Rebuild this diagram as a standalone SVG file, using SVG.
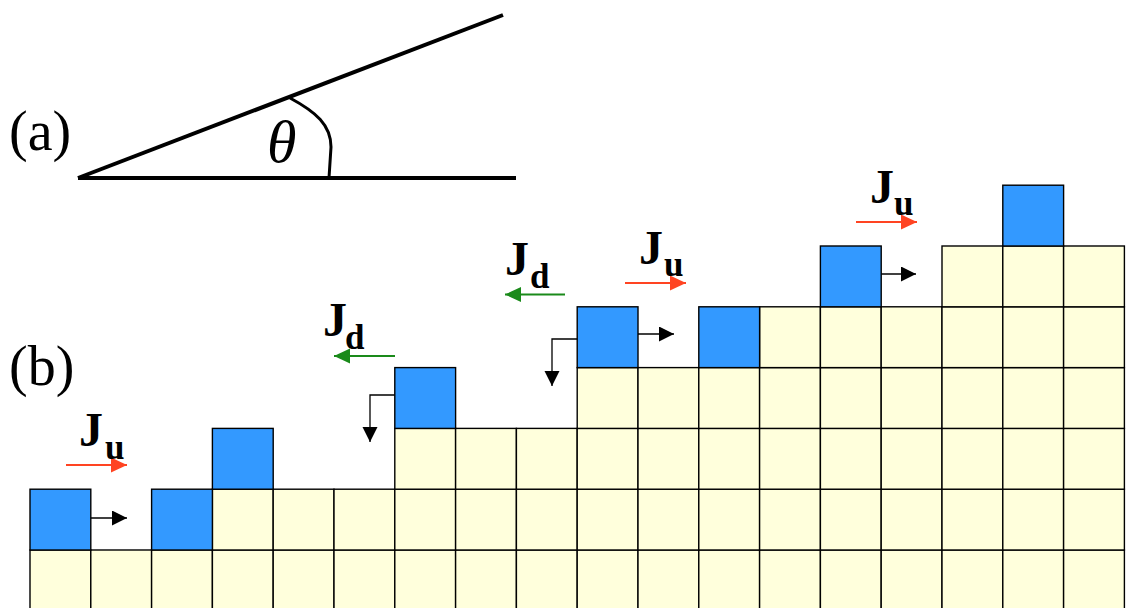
<svg xmlns="http://www.w3.org/2000/svg" width="1126" height="608" viewBox="0 0 1126 608">
<defs>
<style>
.y{fill:#FFFFDC;stroke:#000;stroke-width:1.4}
.b{fill:#3399FF;stroke:#000;stroke-width:1.4}
.lbl{font-family:"Liberation Serif","Times New Roman",serif;fill:#000}
.J{font-size:48px;font-weight:bold}
.s{font-size:35px;font-weight:bold}
.ar{stroke:#000;stroke-width:1.3;fill:none}
.red{stroke:#FF4422;stroke-width:2;fill:none}
.grn{stroke:#1A8A1A;stroke-width:2.2;fill:none}
</style>
<marker id="mk" markerUnits="userSpaceOnUse" markerWidth="16" markerHeight="16" refX="15" refY="7.5" orient="auto"><path d="M0,0 L15,7.5 L0,15 Z" fill="#000"/></marker>
<marker id="mr" markerUnits="userSpaceOnUse" markerWidth="17" markerHeight="16" refX="16" refY="7.5" orient="auto"><path d="M0,0 L16,7.5 L0,15 Z" fill="#FF4422"/></marker>
<marker id="mg" markerUnits="userSpaceOnUse" markerWidth="17" markerHeight="16" refX="16" refY="7.5" orient="auto"><path d="M0,0 L16,7.5 L0,15 Z" fill="#1A8A1A"/></marker>
</defs>
<rect width="1126" height="608" fill="#fff"/>

<g id="angle">
<line x1="78" y1="178" x2="516" y2="178" stroke="#000" stroke-width="4"/>
<line x1="78" y1="178" x2="503" y2="15" stroke="#000" stroke-width="4"/>
<path d="M290,98 C316,112 331,125 331,147 L329,178" stroke="#000" stroke-width="3" fill="none"/>
<text class="lbl" x="267" y="162" font-size="60" font-style="italic">θ</text>
<text class="lbl" x="9" y="150" font-size="56">(a)</text>
</g>

<text class="lbl" x="9" y="385" font-size="56">(b)</text>

<g id="grid">
<rect class="y" x="30" y="550" width="60.8" height="70"/>
<rect class="y" x="90.8" y="550" width="60.8" height="70"/>
<rect class="y" x="151.6" y="550" width="60.8" height="70"/>
<rect class="y" x="212.4" y="550" width="60.8" height="70"/>
<rect class="y" x="273.2" y="550" width="60.8" height="70"/>
<rect class="y" x="334" y="550" width="60.8" height="70"/>
<rect class="y" x="394.8" y="550" width="60.8" height="70"/>
<rect class="y" x="455.6" y="550" width="60.8" height="70"/>
<rect class="y" x="516.4" y="550" width="60.8" height="70"/>
<rect class="y" x="577.2" y="550" width="60.8" height="70"/>
<rect class="y" x="638" y="550" width="60.8" height="70"/>
<rect class="y" x="698.8" y="550" width="60.8" height="70"/>
<rect class="y" x="759.6" y="550" width="60.8" height="70"/>
<rect class="y" x="820.4" y="550" width="60.8" height="70"/>
<rect class="y" x="881.2" y="550" width="60.8" height="70"/>
<rect class="y" x="942" y="550" width="60.8" height="70"/>
<rect class="y" x="1002.8" y="550" width="60.8" height="70"/>
<rect class="y" x="1063.6" y="550" width="60.8" height="70"/>
<rect class="y" x="212.4" y="489.2" width="60.8" height="60.8"/>
<rect class="y" x="273.2" y="489.2" width="60.8" height="60.8"/>
<rect class="y" x="334" y="489.2" width="60.8" height="60.8"/>
<rect class="y" x="394.8" y="489.2" width="60.8" height="60.8"/>
<rect class="y" x="455.6" y="489.2" width="60.8" height="60.8"/>
<rect class="y" x="516.4" y="489.2" width="60.8" height="60.8"/>
<rect class="y" x="577.2" y="489.2" width="60.8" height="60.8"/>
<rect class="y" x="638" y="489.2" width="60.8" height="60.8"/>
<rect class="y" x="698.8" y="489.2" width="60.8" height="60.8"/>
<rect class="y" x="759.6" y="489.2" width="60.8" height="60.8"/>
<rect class="y" x="820.4" y="489.2" width="60.8" height="60.8"/>
<rect class="y" x="881.2" y="489.2" width="60.8" height="60.8"/>
<rect class="y" x="942" y="489.2" width="60.8" height="60.8"/>
<rect class="y" x="1002.8" y="489.2" width="60.8" height="60.8"/>
<rect class="y" x="1063.6" y="489.2" width="60.8" height="60.8"/>
<rect class="y" x="394.8" y="428.4" width="60.8" height="60.8"/>
<rect class="y" x="455.6" y="428.4" width="60.8" height="60.8"/>
<rect class="y" x="516.4" y="428.4" width="60.8" height="60.8"/>
<rect class="y" x="577.2" y="428.4" width="60.8" height="60.8"/>
<rect class="y" x="638" y="428.4" width="60.8" height="60.8"/>
<rect class="y" x="698.8" y="428.4" width="60.8" height="60.8"/>
<rect class="y" x="759.6" y="428.4" width="60.8" height="60.8"/>
<rect class="y" x="820.4" y="428.4" width="60.8" height="60.8"/>
<rect class="y" x="881.2" y="428.4" width="60.8" height="60.8"/>
<rect class="y" x="942" y="428.4" width="60.8" height="60.8"/>
<rect class="y" x="1002.8" y="428.4" width="60.8" height="60.8"/>
<rect class="y" x="1063.6" y="428.4" width="60.8" height="60.8"/>
<rect class="y" x="577.2" y="367.6" width="60.8" height="60.8"/>
<rect class="y" x="638" y="367.6" width="60.8" height="60.8"/>
<rect class="y" x="698.8" y="367.6" width="60.8" height="60.8"/>
<rect class="y" x="759.6" y="367.6" width="60.8" height="60.8"/>
<rect class="y" x="820.4" y="367.6" width="60.8" height="60.8"/>
<rect class="y" x="881.2" y="367.6" width="60.8" height="60.8"/>
<rect class="y" x="942" y="367.6" width="60.8" height="60.8"/>
<rect class="y" x="1002.8" y="367.6" width="60.8" height="60.8"/>
<rect class="y" x="1063.6" y="367.6" width="60.8" height="60.8"/>
<rect class="y" x="759.6" y="306.8" width="60.8" height="60.8"/>
<rect class="y" x="820.4" y="306.8" width="60.8" height="60.8"/>
<rect class="y" x="881.2" y="306.8" width="60.8" height="60.8"/>
<rect class="y" x="942" y="306.8" width="60.8" height="60.8"/>
<rect class="y" x="1002.8" y="306.8" width="60.8" height="60.8"/>
<rect class="y" x="1063.6" y="306.8" width="60.8" height="60.8"/>
<rect class="y" x="942" y="246" width="60.8" height="60.8"/>
<rect class="y" x="1002.8" y="246" width="60.8" height="60.8"/>
<rect class="y" x="1063.6" y="246" width="60.8" height="60.8"/>
</g>

<g id="adatoms">
<rect class="b" x="30" y="489.2" width="60.8" height="60.8"/>
<rect class="b" x="151.6" y="489.2" width="60.8" height="60.8"/>
<rect class="b" x="212.4" y="428.4" width="60.8" height="60.8"/>
<rect class="b" x="394.8" y="367.6" width="60.8" height="60.8"/>
<rect class="b" x="577.2" y="306.8" width="60.8" height="60.8"/>
<rect class="b" x="698.8" y="306.8" width="60.8" height="60.8"/>
<rect class="b" x="820.4" y="246" width="60.8" height="60.8"/>
<rect class="b" x="1002.8" y="185.2" width="60.8" height="60.8"/>
</g>

<g id="connectors">
<line class="ar" x1="90.8" y1="518" x2="127" y2="518" marker-end="url(#mk)"/>
<polyline class="ar" points="394.8,395 370,395 370,442" marker-end="url(#mk)"/>
<polyline class="ar" points="577.2,339 552,339 552,386" marker-end="url(#mk)"/>
<line class="ar" x1="638" y1="334" x2="674" y2="334" marker-end="url(#mk)"/>
<line class="ar" x1="881.2" y1="274" x2="916" y2="274" marker-end="url(#mk)"/>
<line class="red" x1="66" y1="465" x2="127" y2="465" marker-end="url(#mr)"/>
<line class="red" x1="625" y1="283" x2="686" y2="283" marker-end="url(#mr)"/>
<line class="red" x1="856" y1="222" x2="917" y2="222" marker-end="url(#mr)"/>
<line class="grn" x1="395" y1="356" x2="334" y2="356" marker-end="url(#mg)"/>
<line class="grn" x1="565" y1="294.5" x2="505" y2="294.5" marker-end="url(#mg)"/>
</g>

<g id="labels">
<text class="lbl J" x="79" y="446">J</text><text class="lbl s" x="105" y="459">u</text>
<text class="lbl J" x="323" y="336">J</text><text class="lbl s" x="345" y="349">d</text>
<text class="lbl J" x="505" y="275">J</text><text class="lbl s" x="530" y="288">d</text>
<text class="lbl J" x="639" y="264">J</text><text class="lbl s" x="664" y="276">u</text>
<text class="lbl J" x="870" y="203">J</text><text class="lbl s" x="894" y="215">u</text>
</g>
</svg>
